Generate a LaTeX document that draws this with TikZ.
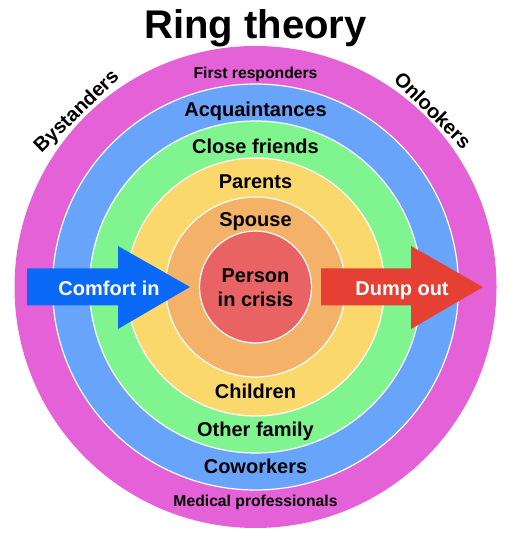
\documentclass[tikz,border=0pt]{standalone}
\usepackage{fontspec}
\setmainfont{Liberation Sans}
\usepackage{tikz}
\usetikzlibrary{positioning, calc}

\definecolor{pinkring}{HTML}{E561D7}
\definecolor{bluering}{HTML}{68A5FA}
\definecolor{greenring}{HTML}{80F48E}
\definecolor{yellowring}{HTML}{FBD86B}
\definecolor{orangering}{HTML}{F4B268}
\definecolor{redring}{HTML}{EA6364}
\definecolor{comfortblue}{HTML}{0A6AF7}
\definecolor{dumpred}{HTML}{E64034}

\tikzset{
    ring/.style={circle, draw=white, line width=1.2pt, inner sep=0pt, outer sep=0pt},
    lbl/.style={anchor=base, inner sep=0pt, font=\bfseries\fontsize{20}{24}\selectfont},
    smalllbl/.style={anchor=base, inner sep=0pt, font=\bfseries\fontsize{15.7}{18}\selectfont},
    arrowlbl/.style={anchor=base, inner sep=0pt, text=white, font=\bfseries\fontsize{20}{24}\selectfont}
}

\begin{document}
\begin{tikzpicture}[x=1pt, y=1pt]
\useasboundingbox (0,0) rectangle (518,537);
\coordinate (center) at (255.5,250);

% Rings
\node[ring, draw=none, fill=pinkring, minimum size=482pt] (ring1) at (center) {};
\node[ring, fill=bluering, minimum size=406pt] (ring2) at (center) {};
\node[ring, fill=greenring, minimum size=332pt] (ring3) at (center) {};
\node[ring, fill=yellowring, minimum size=258pt] (ring4) at (center) {};
\node[ring, fill=orangering, minimum size=180pt] (ring5) at (center) {};
\node[ring, fill=redring, minimum size=112pt] (ring6) at (center) {};

% Title
\node[anchor=base, inner sep=0pt, font=\bfseries\fontsize{40}{48}\selectfont] (title) at (255.5,498) {Ring theory};

% Ring labels, top half
\node[smalllbl] (firstresp) at (255.5,458) {First responders};
\node[lbl] (acquaint) at (255.5,420) {Acquaintances};
\node[lbl] (closefr) at (255.5,383) {Close friends};
\node[lbl] (parents) at (255.5,348) {Parents};
\node[lbl] (spouse) at (255.5,310) {Spouse};
\node[lbl] (person) at (255.5,254) {Person};
\node[lbl] (crisis) at (255.5,230) {in crisis};

% Ring labels, bottom half
\node[lbl] (children) at (255.5,138) {Children};
\node[lbl] (otherfam) at (255.5,100) {Other family};
\node[lbl] (coworkers) at (255.5,63) {Coworkers};
\node[smalllbl] (medical) at (255.5,30) {Medical professionals};

% Side labels
\node[inner sep=0pt, rotate=44, font=\bfseries\fontsize{20}{24}\selectfont] (bystanders) at (77,425) {Bystanders};
\node[inner sep=0pt, rotate=-45, font=\bfseries\fontsize{20}{24}\selectfont] (onlookers) at (433,427) {Onlookers};

% Arrows
\fill[comfortblue] (27,268.5) -- (118,268.5) -- (118,291) -- (190,250) -- (118,208) -- (118,231.5) -- (27,231.5) -- cycle;
\fill[dumpred] (321,268.5) -- (411,268.5) -- (411,291) -- (483,250) -- (411,208) -- (411,231.5) -- (321,231.5) -- cycle;
\node[arrowlbl] (comfort) at (109,241) {Comfort in};
\node[arrowlbl] (dump) at (402,241) {Dump out};

\end{tikzpicture}
\end{document}
